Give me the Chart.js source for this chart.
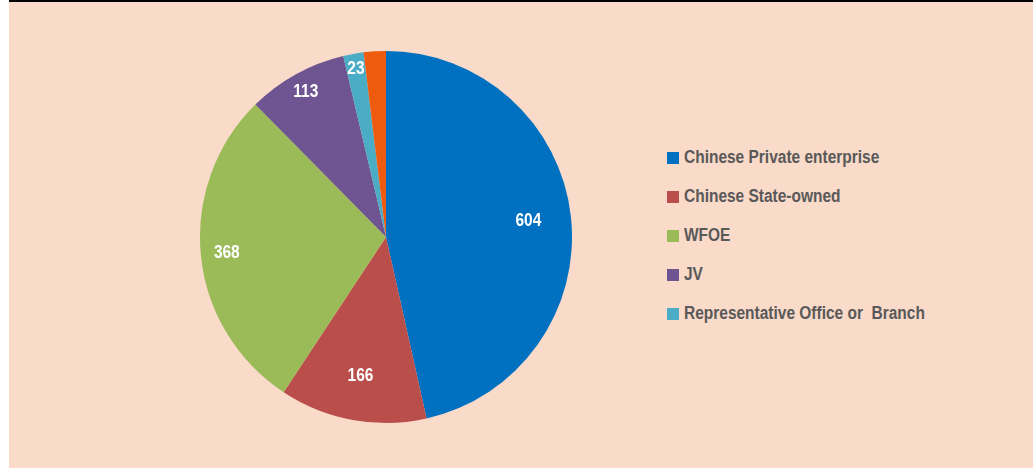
<!DOCTYPE html>
<html>
<head>
<meta charset="utf-8">
<script src="https://cdn.jsdelivr.net/npm/chart.js@4"></script>
<style>
  html, body { margin:0; padding:0; background:#fff; }
  #frame { position:absolute; left:9px; top:0; width:1024px; height:468px; background:#FADAC8; border-top:2px solid #000; box-sizing:border-box; }
  #pieBox { position:absolute; left:187px; top:45px; width:380px; height:380px; }
  #legend { position:absolute; left:658px; top:145px; font-family:"Liberation Sans",Arial,sans-serif; font-weight:bold; font-size:18px; color:#595959; }
  #legend div { height:39px; display:flex; align-items:flex-start; white-space:pre; }
  #legend span.sw { display:inline-block; width:12px; height:12px; margin:5px 5px 0 0; }
  #legend span.tx { display:inline-block; transform:scaleX(0.86); transform-origin:left center; }
</style>
</head>
<body>
<div id="frame">
  <div id="pieBox"><canvas id="pie"></canvas></div>
  <div id="legend"></div>
</div>
<script>
// ═══ DATA ═══
const categories = ['Chinese Private enterprise','Chinese State-owned','WFOE','JV','Representative Office or  Branch','Other'];
const counts     = [604, 166, 368, 113, 23, 25];
const colors     = ['#0070C0','#BA4E4B','#9BBB59','#6E5490','#4BACC6','#EE5A0E'];
const showLabel  = [true, true, true, true, true, false];
const inLegend   = [true, true, true, true, true, false];
// label distance from centre, as a share of the radius
const labelDist  = [0.77, 0.76, 0.86, 0.89, 0.92, 0.8];

// white value labels on slices
const sliceLabels = {
  id: 'sliceLabels',
  afterDatasetsDraw(chart) {
    const ctx = chart.ctx;
    const meta = chart.getDatasetMeta(0);
    ctx.save();
    ctx.fillStyle = '#fff';
    ctx.font = 'bold 18px "Liberation Sans", Arial, sans-serif';
    ctx.textAlign = 'center';
    ctx.textBaseline = 'middle';
    meta.data.forEach((arc, i) => {
      if (!showLabel[i]) return;
      const mid = (arc.startAngle + arc.endAngle) / 2;
      const r = arc.outerRadius * labelDist[i];
      const x = arc.x + Math.cos(mid) * r, y = arc.y + Math.sin(mid) * r;
      ctx.save();
      ctx.translate(x, y);
      ctx.scale(0.86, 1);
      ctx.fillText(String(counts[i]), 0, 0);
      ctx.restore();
    });
    ctx.restore();
  }
};

function initPie() {
  new Chart(document.getElementById('pie'), {
    type: 'pie',
    data: {
      labels: categories,
      datasets: [{ data: counts, backgroundColor: colors, borderWidth: 0 }]
    },
    options: {
      responsive: true,
      maintainAspectRatio: false,
      animation: false,
      layout: { padding: 4 },
      plugins: { legend: { display: false }, tooltip: { enabled: false } }
    },
    plugins: [sliceLabels]
  });

  const lg = document.getElementById('legend');
  categories.forEach((c, i) => {
    if (!inLegend[i]) return;
    const row = document.createElement('div');
    row.innerHTML = '<span class="sw" style="background:' + colors[i] + '"></span><span class="tx">' + c + '</span>';
    lg.appendChild(row);
  });
}

document.addEventListener('DOMContentLoaded', initPie);
</script>
</body>
</html>
